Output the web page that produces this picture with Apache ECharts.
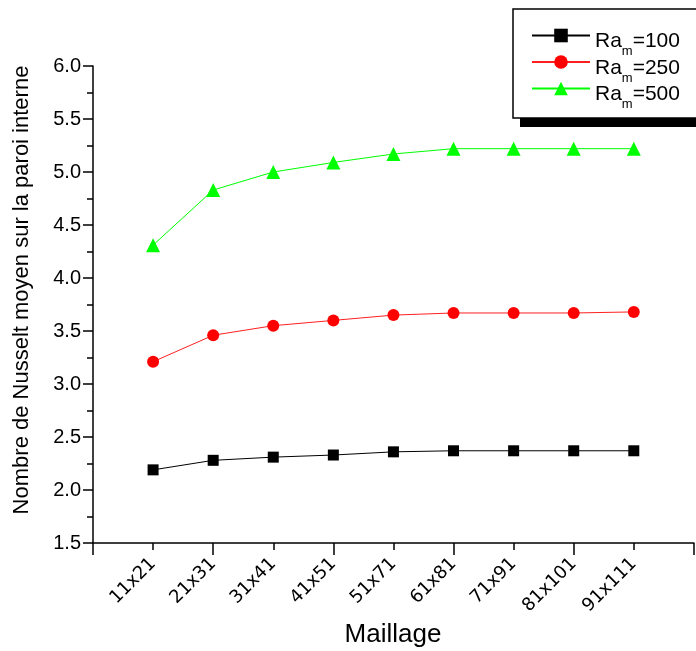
<!DOCTYPE html>
<html>
<head>
<meta charset="utf-8">
<script src="https://cdn.jsdelivr.net/npm/echarts@6/dist/echarts.min.js"></script>
<style>html,body{margin:0;padding:0;background:#fff}#c{width:696px;height:651px}</style>
</head>
<body>
<div id="c"></div>
<script>
const categories = ['11x21','21x31','31x41','41x51','51x71','61x81','71x91','81x101','91x111'];
const ra100 = [2.19, 2.28, 2.31, 2.33, 2.36, 2.37, 2.37, 2.37, 2.37];
const ra250 = [3.21, 3.46, 3.55, 3.60, 3.65, 3.67, 3.67, 3.67, 3.68];
const ra500 = [4.31, 4.83, 5.00, 5.09, 5.17, 5.22, 5.22, 5.22, 5.22];
const seriesNames = ['100', '250', '500'];

const toXY = arr => arr.map((v, i) => [i + 1, v]);
const chart = echarts.init(document.getElementById('c'));
const font = 'Liberation Sans, Arial, sans-serif';

chart.setOption({
  animation: false,
  backgroundColor: '#fff',
  grid: { left: 93, top: 66, right: -1, bottom: 108, containLabel: false },
  graphic: [
    { type: 'rect', z: 1, shape: { x: 520, y: 112, width: 200, height: 15 }, style: { fill: '#000' } },
    { type: 'rect', z: 2, shape: { x: 513, y: 9, width: 200, height: 109 }, style: { fill: '#fff', stroke: '#000', lineWidth: 1.5 } },
    { type: 'text', z: 5, x: 22, y: 290, rotation: Math.PI / 2,
      style: { text: 'Nombre de Nusselt moyen sur la paroi interne', font: '22px ' + font, fill: '#000', align: 'center', verticalAlign: 'middle' } },
    { type: 'text', z: 5, x: 393, y: 635,
      style: { text: 'Maillage', font: '26px ' + font, fill: '#000', align: 'center', verticalAlign: 'middle' } }
  ],
  legend: {
    z: 10,
    orient: 'vertical',
    left: 526,
    top: 20,
    itemWidth: 58,
    itemHeight: 17,
    itemGap: -6.5,
    data: seriesNames.map(n => 'Ra' + n),
    formatter: name => '{a|Ra}{b|m}{a|=' + name.slice(2) + '}',
    textStyle: {
      rich: {
        a: { fontSize: 21, lineHeight: 21, fontFamily: font, color: '#000', padding: [6, 0, 0, 0], verticalAlign: 'top' },
        b: { fontSize: 13, lineHeight: 13, fontFamily: font, color: '#000', padding: [20, 0, 0, 0], verticalAlign: 'top' }
      }
    }
  },
  xAxis: [{
    type: 'value',
    min: 0, max: 10, interval: 1,
    splitLine: { show: false },
    axisLine: { show: true, onZero: false, lineStyle: { color: '#000', width: 1.5 } },
    axisTick: { show: true, length: 7, lineStyle: { color: '#000', width: 1.5 } },
    axisLabel: {
      rotate: 45, margin: 18, color: '#000', fontSize: 18, fontFamily: 'DejaVu Sans, sans-serif',
      formatter: v => categories[v - 1] || ''
    }
  }, {
    type: 'value',
    position: 'bottom',
    min: 0, max: 10, interval: 2,
    splitLine: { show: false },
    axisLine: { show: false, onZero: false },
    axisTick: { show: true, length: 12, lineStyle: { color: '#000', width: 1.5 } },
    axisLabel: { show: false }
  }],
  yAxis: {
    type: 'value',
    min: 1.5, max: 6, interval: 0.5,
    splitLine: { show: false },
    axisLine: { show: true, onZero: false, lineStyle: { color: '#000', width: 1.5 } },
    axisTick: { show: true, length: 10, lineStyle: { color: '#000', width: 1.5 } },
    minorTick: { show: true, splitNumber: 2, length: 6, lineStyle: { color: '#000', width: 1.5 } },
    axisLabel: { color: '#000', fontSize: 20, fontFamily: font, margin: 12, formatter: v => v.toFixed(1) }
  },
  series: [
    { name: 'Ra100', type: 'line', data: toXY(ra100), symbol: 'rect', symbolSize: 11,
      lineStyle: { color: '#000', width: 1 }, itemStyle: { color: '#000' } },
    { name: 'Ra250', type: 'line', data: toXY(ra250), symbol: 'circle', symbolSize: 12,
      lineStyle: { color: '#ff2020', width: 1 }, itemStyle: { color: '#ff0000' } },
    { name: 'Ra500', type: 'line', data: toXY(ra500), symbol: 'triangle', symbolSize: 14,
      lineStyle: { color: '#00ff00', width: 1 }, itemStyle: { color: '#00ff00' } }
  ]
});
</script>
</body>
</html>
